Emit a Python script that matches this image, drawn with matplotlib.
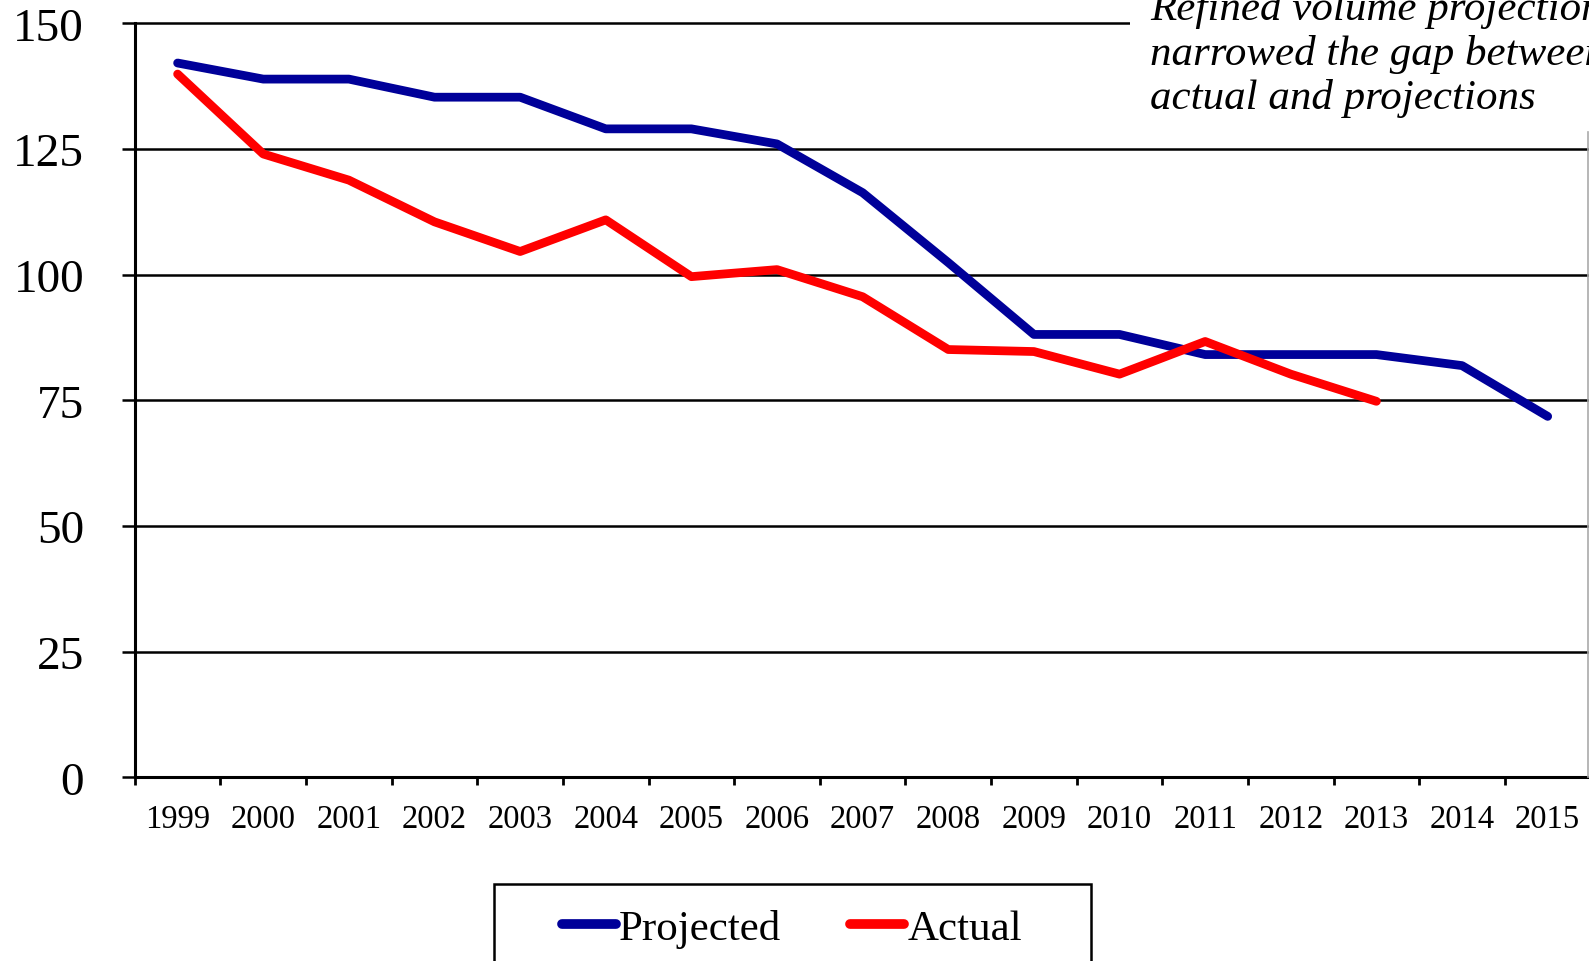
import matplotlib
matplotlib.use("Agg")
import matplotlib.pyplot as plt
from matplotlib.patches import Rectangle
from matplotlib.lines import Line2D

years = ["1999", "2000", "2001", "2002", "2003", "2004", "2005", "2006", "2007",
         "2008", "2009", "2010", "2011", "2012", "2013", "2014", "2015"]
projected = [142.1, 138.9, 138.9, 135.3, 135.3, 129.0, 129.0, 126.0, 116.3,
             102.4, 88.1, 88.1, 84.1, 84.1, 84.1, 81.9, 71.8]
actual = [139.9, 124.0, 118.8, 110.5, 104.6, 110.9, 99.6, 101.0, 95.6,
          85.1, 84.7, 80.2, 86.7, 80.2, 74.8]
yticks = [0, 25, 50, 75, 100, 125, 150]
annotation = "Refined volume projections\nnarrowed the gap between\nactual and projections"

W, H = 1589, 962
fig = plt.figure(figsize=(W / 100, H / 100), dpi=100)
fig.patch.set_facecolor("white")

left, right = 134.8, 1590.5
top, bottom = 24.3, 778.3
ax = fig.add_axes([left / W, 1 - bottom / H, (right - left) / W, (bottom - top) / H])

serif = "Liberation Serif"
x = list(range(len(years)))
ax.plot(x, projected, color="#000099", lw=6.3, solid_capstyle="round",
        solid_joinstyle="round", label="Projected", zorder=3)
ax.plot(x[:len(actual)], actual, color="#FF0000", lw=6.3, solid_capstyle="round",
        solid_joinstyle="round", label="Actual", zorder=3)

ax.set_xlim(-0.5, len(years) - 0.5)
ax.set_ylim(0, 150)

ax.set_yticks(yticks)
ax.set_yticklabels([str(v) for v in yticks], fontfamily=serif, fontsize=34)
ax.tick_params(axis="y", direction="out", length=9.5, width=1.8, pad=27, color="black")
ax.yaxis.grid(True, color="black", lw=1.8)
for gl in ax.get_ygridlines():
    gl.set_clip_on(False)

ax.set_xticks(x)
ax.set_xticklabels(years, fontfamily=serif, fontsize=23.5)
ax.tick_params(axis="x", which="major", length=0, pad=19)
ax.set_xticks([i - 0.5 for i in range(len(years) + 1)], minor=True)
ax.tick_params(axis="x", which="minor", direction="out", length=6, width=2.0, color="black")

for s in ["top", "right"]:
    ax.spines[s].set_visible(False)
for s in ["left", "bottom"]:
    ax.spines[s].set_linewidth(2.2)
    ax.spines[s].set_color("black")
ax.set_axisbelow(True)

# right plot-area border (thin gray)
fig.add_artist(Line2D([1588 / W, 1588 / W], [1 - 778.3 / H, 1 - 133 / H],
                      color="#aaaaaa", lw=1.2, transform=fig.transFigure))

# white box behind annotation
fig.add_artist(Rectangle((1130 / W, 1 - 132 / H), (W - 1130) / W, 132 / H + 0.01,
                         transform=fig.transFigure, facecolor="white",
                         edgecolor="none", zorder=5))
fig.text(1150 / W, 1 - 109 / H, annotation, fontfamily=serif, style="italic",
         fontsize=31, va="baseline", ha="left", linespacing=1.18, zorder=6,
         multialignment="left")

# legend frame (extends past the bottom edge)
fig.add_artist(Rectangle((494 / W, -0.02), (1091 - 494) / W, (1 - 885 / H) + 0.02,
                         transform=fig.transFigure, facecolor="white",
                         edgecolor="black", lw=1.8, zorder=4))
leg = fig.legend(loc="center left", bbox_to_anchor=(562 / W, 1 - 929 / H),
                 ncol=2, frameon=False, prop={"family": serif, "size": 31},
                 handlelength=1.25, handletextpad=0.08, columnspacing=1.6,
                 borderpad=0, borderaxespad=0)
leg.set_zorder(6)
for line in leg.get_lines():
    line.set_linewidth(7)
    line.set_solid_capstyle("round")

fig.savefig("out.png", dpi=100)
